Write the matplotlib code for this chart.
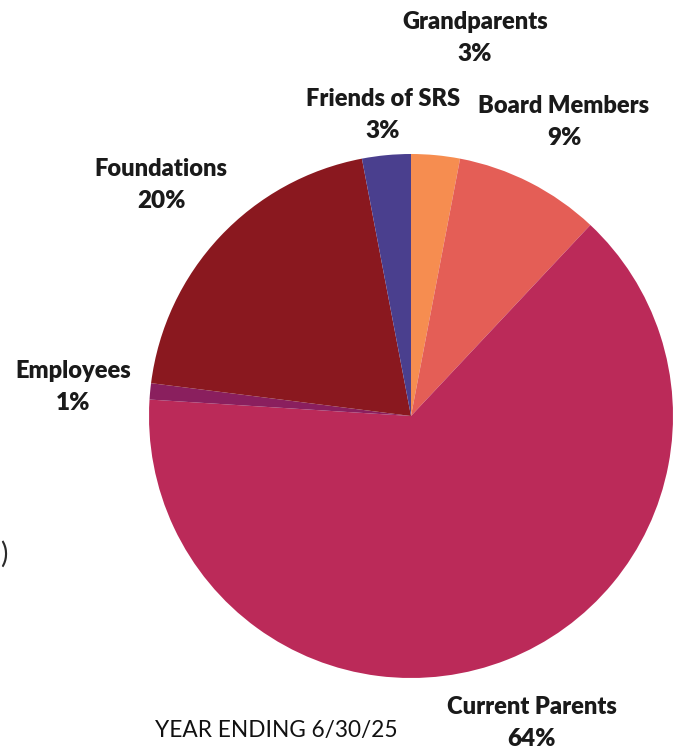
import matplotlib.pyplot as plt

# 기부자 구성 (6/30/25 기준)
labels = ['Grandparents', 'Board Members', 'Current Parents', 'Employees', 'Foundations', 'Friends of SRS']
shares = [3, 9, 64, 1, 20, 3]
colors = ['#F68D50', '#E45E56', '#BB2A59', '#8A1F5E', '#8A181F', '#4A3F8E']
pct_labels = [f"{s}%" for s in shares]

# 라벨 위치 (픽셀, 위에서부터)
label_pos = {
    'Grandparents': (475, 22),
    'Board Members': (564, 106),
    'Current Parents': (532, 707),
    'Employees': (73, 371),
    'Foundations': (161, 169),
    'Friends of SRS': (383, 99),
}

W, H = 673, 749
fig = plt.figure(figsize=(W / 100, H / 100), dpi=100)
ax = fig.add_axes([0, 0, 1, 1])

ax.pie(shares, colors=colors, startangle=90, counterclock=False,
       center=(411, H - 416), radius=262,
       wedgeprops=dict(linewidth=0))
ax.set_xlim(0, W)
ax.set_ylim(0, H)
ax.set_aspect('equal')
ax.axis('off')

font = ['Lato', 'DejaVu Sans']
for name, pct in zip(labels, pct_labels):
    x, y = label_pos[name]
    ax.text(x, H - y, name, ha='center', va='center', fontsize=17,
            fontweight='heavy', family=font, color='#1a1a1a')
    ax.text(x, H - y - 32, pct, ha='center', va='center', fontsize=17.5,
            fontweight='heavy', family=font, color='#1a1a1a')

ax.text(155, H - 731, 'YEAR ENDING 6/30/25', ha='left', va='center',
        fontsize=16.3, family=font, color='#111111')

# 왼쪽 가장자리의 괄호
ax.text(4, H - 554, ')', ha='center', va='center', fontsize=20,
        family=font, color='#2a2a2a')

fig.savefig('out.png', dpi=100)
